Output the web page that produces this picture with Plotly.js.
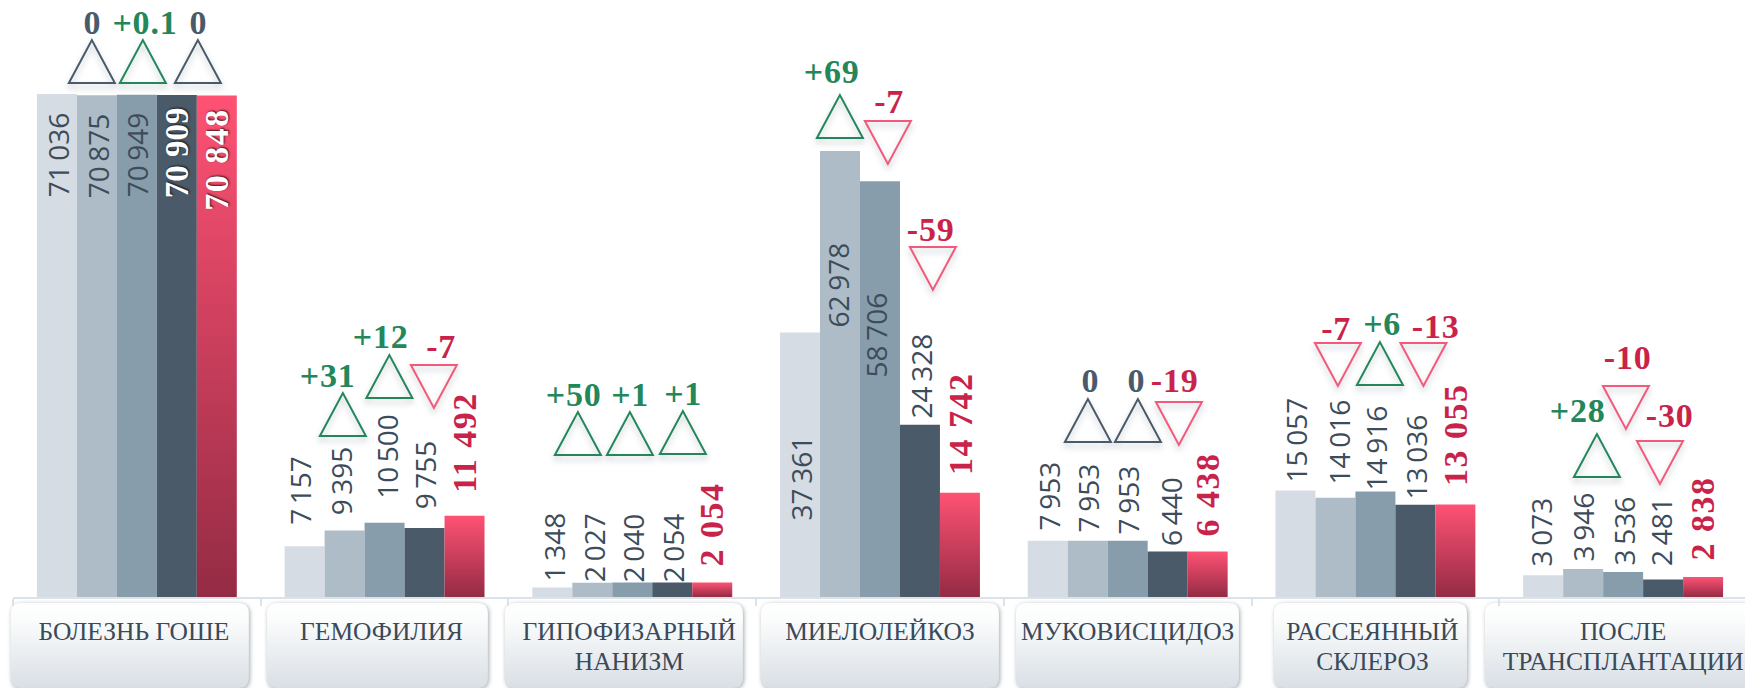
<!DOCTYPE html>
<html><head><meta charset="utf-8">
<script src="https://cdn.plot.ly/plotly-3.0.1.min.js"></script>
<style>html,body{margin:0;padding:0;background:#fff;overflow:hidden}#chart{width:1745px;height:688px}</style>
</head><body><div id="chart"></div>
<script>
const categories = ['БОЛЕЗНЬ ГОШЕ','ГЕМОФИЛИЯ','ГИПОФИЗАРНЫЙ<br>НАНИЗМ','МИЕЛОЛЕЙКОЗ','МУКОВИСЦИДОЗ','РАССЕЯННЫЙ<br>СКЛЕРОЗ','ПОСЛЕ<br>ТРАНСПЛАНТАЦИИ'];
const series1 = [71036, 7157, 1348, 37361, 7953, 15057, 3073];
const series2 = [70875, 9395, 2027, 62978, 7953, 14016, 3946];
const series3 = [70949, 10500, 2040, 58706, 7953, 14916, 3536];
const series4 = [70909, 9755, 2054, 24328, 6440, 13036, 2481];
const series5 = [70848, 11492, 2054, 14742, 6438, 13055, 2838];
const deltas1 = ['0','+31','+50','+69','0','-7','+28'];
const deltas2 = ['+0.1','+12','+1','-7','0','+6','-10'];
const deltas3 = ['0','-7','+1','-59','-19','-13','-30'];

// layout only (pixels of the 1745x688 page)
const W=1745,H=688,BASE=597,PXU=0.00708,X0=137,STEP=247.7,LEFT=13.15;
const labelCx=[[58,98,137,177,217],[299.5,341,386.5,425,465],[554,593.5,633,673,712],[801,838,876,921,961],[1049,1088,1128,1171,1208],[1296,1339,1376,1416,1456],[1541,1583,1624,1660.5,1703]];
const labelBottom=[[197,198,197,198,211],[525,515,499,509,493],[581,582,582,582,566],[520,327,377,418,475],[530,532,534,545.5,536],[482,484,490,499,486],[566,561,565,566,560]];
const triX=[[92,143,198],[343,389.5,434],[578,630,683],[840,888,933],[1088,1138,1179],[1338,1380,1423.5],[1597,1626,1660]];
const triBase=[[83,83,83],[436,398,365],[455,455,454],[138,121,247],[442,442,402],[343,385,343],[477,386,441]];
const txtX=[[93,145,199],[328,381,441],[574,630,683],[832,889,931],[1091,1137,1175],[1336,1382,1436],[1578,1627.5,1670]];
const txtBase=[[34,34,34],[387,348,358],[406,406,405],[83,113,241],[392,392,392],[340,335,338],[422,369,427]];
const boxL=[11,267,505,761,1016,1274,1485], boxR=[249,488,743,999,1239,1467,1770];
const tickShift=[-3,-3,-3,0,0,-3,0];

const xd=px=>(px-X0)/STEP, yd=py=>(BASE-py)/PXU;
const all=[series1,series2,series3,series4,series5];
const colors=['#d5dce3','#aebcc8','#879dac','#4a5a68','#ff5274'];
const fmt=(v,sp)=>String(v).replace(/\B(?=(\d{3})+$)/g,sp);
const traces=all.map((s,i)=>({type:'bar',x:categories,y:s,marker:{color:colors[i],line:{width:0}},showlegend:false,hoverinfo:'x+y'}));

const ann=[],shapes=[],spacing=[];
const SANS='"Open Sans","Noto Sans",sans-serif',SERIF='"Liberation Serif",serif';
const GREY='#4a5a6a',GREEN='#23875a',RED='#c9234a',PINK='#f4587a';
categories.forEach((c,g)=>{
  all.forEach((s,i)=>{
    const inv=g===0&&i===3, bold=i===4||inv, ls=i===4?1.5:0, txt=fmt(s[g],bold?' ':'\u2009');
    spacing.push(ls);
    ann.push({x:xd(labelCx[g][i]),y:yd(labelBottom[g][i]),yshift:ls*txt.length/2,xref:'x',yref:'y',text:txt,textangle:-90,showarrow:false,xanchor:'center',yanchor:'bottom',borderpad:0,borderwidth:0,
      font:{family:bold?SERIF:SANS,size:inv?33:bold?34:28,weight:bold?700:400,color:(inv||(g===0&&i===4))?'#fff':bold?RED:'#3d4c5a',shadow:(inv||(g===0&&i===4))?'1px 1px 2px rgba(0,0,0,.7)':'none'}});
  });
  [deltas1,deltas2,deltas3].forEach((d,k)=>{
    const t=d[g],neg=t[0]==='-',pos=t[0]==='+';
    spacing.push(0.8);
    ann.push({x:xd(txtX[g][k]),y:yd(txtBase[g][k]+8),xref:'x',yref:'y',text:t,showarrow:false,xanchor:'center',yanchor:'bottom',borderpad:0,
      font:{family:SERIF,size:34,weight:700,color:neg?RED:pos?GREEN:GREY}});
    shapes.push({type:'path',xref:'x',yref:'y',xsizemode:'pixel',ysizemode:'pixel',xanchor:xd(triX[g][k]),yanchor:yd(triBase[g][k]),
      path:neg?'M-23,0 L23,0 L0,-43 Z':'M-23,0 L23,0 L0,43 Z',fillcolor:'rgba(0,0,0,0)',line:{color:neg?PINK:pos?GREEN:GREY,width:2},name:'tri'});
  });
  const w=boxR[g]-boxL[g],r=10,t=6,b=91;
  shapes.push({type:'path',xref:'paper',yref:'paper',xsizemode:'pixel',ysizemode:'pixel',xanchor:(boxL[g]-LEFT)/(W-LEFT),yanchor:0,layer:'below',
    path:`M0,-${t+r} Q0,-${t} ${r},-${t} L${w-r},-${t} Q${w},-${t} ${w},-${t+r} L${w},-${b-r} Q${w},-${b} ${w-r},-${b} L${r},-${b} Q0,-${b} 0,-${b-r} Z`,fillcolor:'#e8ecf0',line:{width:0},name:'box'});
});

const layout={width:W,height:H,margin:{l:LEFT,r:0,t:0,b:H-BASE,pad:0},paper_bgcolor:'#fff',plot_bgcolor:'rgba(0,0,0,0)',
  barmode:'group',bargap:0.193,bargroupgap:0,showlegend:false,annotations:ann,shapes:shapes,
  xaxis:{type:'category',range:[-0.5,6.492],tickson:'boundaries',ticks:'outside',ticklen:7,tickwidth:2,tickcolor:'#dbe2e8',showline:true,linecolor:'#dbe2e8',linewidth:2,showgrid:false,zeroline:false,ticklabelstandoff:10,tickangle:0,
    tickfont:{family:SERIF,size:25.5,color:'#3a4a58',weight:400}},
  yaxis:{range:[0,BASE/PXU],visible:false,showgrid:false,zeroline:false,fixedrange:true}};

Plotly.newPlot('chart',traces,layout,{displayModeBar:false,staticPlot:true}).then(gd=>{
  const svg=gd.querySelector('.main-svg');
  const NS='http://www.w3.org/2000/svg';
  const defs=svg.querySelector('defs');
  const grad=(id,stops)=>{const g=document.createElementNS(NS,'linearGradient');g.id=id;g.setAttribute('x1','0');g.setAttribute('y1','0');g.setAttribute('x2','0');g.setAttribute('y2','1');
    stops.forEach(([o,c])=>{const s=document.createElementNS(NS,'stop');s.setAttribute('offset',o);s.setAttribute('stop-color',c);g.appendChild(s);});defs.appendChild(g);};
  grad('redGrad',[[0,'#ff5274'],[1,'#942b44']]);grad('boxGrad',[[0,'#ffffff'],[0.2,'#fbfcfc'],[1,'#d9dfe5']]);
  gd.querySelectorAll('.barlayer .trace')[4].querySelectorAll('path').forEach(p=>{p.style.fill='url(#redGrad)';});
  gd.querySelectorAll('.shapelayer path').forEach(p=>{
    if(p.style.fill.replace(/\s/g,'')==='rgb(232,236,240)'){p.style.fill='url(#boxGrad)';p.style.fillOpacity=1;p.style.filter='drop-shadow(1px 1px 2px rgba(70,85,100,.5))';}
    else{p.style.filter='drop-shadow(0px 4px 3px rgba(70,85,100,.35))';}
  });
  gd.querySelectorAll('.xtick text').forEach((t,i)=>{
    const dx=tickShift[i]||0,x=+t.getAttribute('x')+dx;t.setAttribute('x',x);
    t.querySelectorAll('tspan.line').forEach((s,j)=>{s.setAttribute('x',x);if(j>0){s.setAttribute('dy','0');s.setAttribute('y',+t.getAttribute('y')+j*30);}});
  });
  gd.querySelectorAll('.annotation').forEach(a=>{
    const i=+a.getAttribute('data-index'),t=a.querySelector('.annotation-text');
    if(t&&spacing[i])t.style.letterSpacing=spacing[i]+'px';
  });
});
</script></body></html>
